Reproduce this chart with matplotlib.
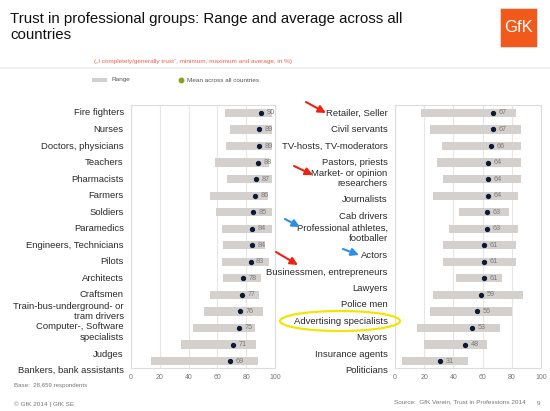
"""Trust in professional groups: range and average across all countries."""

import matplotlib.pyplot as plt
from matplotlib.patches import Ellipse, FancyBboxPatch

plt.rcParams['font.family'] = ['Liberation Sans', 'DejaVu Sans']

# left panel
left_groups = ["Fire fighters", "Nurses", "Doctors, physicians", "Teachers", "Pharmacists",
               "Farmers", "Soldiers", "Paramedics", "Engineers, Technicians", "Pilots",
               "Architects", "Craftsmen", "Train-bus-underground- or\ntram drivers",
               "Computer-, Software\nspecialists", "Judges", "Bankers, bank assistants"]
left_min = [65, 69, 66, 58, 67, 55, 59, 63, 64, 63, 64, 55, 51, 43, 35, 14]
left_max = [98, 98, 98, 96, 98, 95, 98, 98, 93, 96, 90, 89, 92, 86, 87, 88]
left_mean = [90, 89, 89, 88, 87, 86, 85, 84, 84, 83, 78, 77, 76, 75, 71, 69]
left_label_pos = [0, 1, 2, 3, 4, 5, 6, 7, 8, 9, 10, 11, 12, 13.25, 14.58, 15.55]

# right panel
right_groups = ["Retailer, Seller", "Civil servants", "TV-hosts, TV-moderators",
                "Pastors, priests", "Market- or opinion\nresearchers", "Journalists",
                "Cab drivers", "Professional athletes,\nfootballer", "Actors",
                "Businessmen, entrepreneurs", "Lawyers", "Police men",
                "Advertising specialists", "Mayors", "Insurance agents", "Politicians"]
right_min = [18, 24, 32, 29, 33, 26, 44, 37, 33, 33, 42, 26, 24, 15, 20, 5]
right_max = [83, 86, 86, 86, 86, 84, 78, 84, 83, 83, 73, 88, 80, 72, 63, 50]
right_mean = [67, 67, 66, 64, 64, 64, 63, 63, 61, 61, 61, 59, 56, 53, 48, 31]
right_label_pos = [0, 1.03, 2, 2.98, 3.96, 5.26, 6.29, 7.29, 8.59, 9.62, 10.6, 11.6,
                   12.6, 13.6, 14.6, 15.6]

xticks = [0, 20, 40, 60, 80, 100]

BAR = "#d4d0cd"
DOT = "#0d1a33"
GRID = "#e6e6e6"
W, H = 550, 411


def fx(px):
    return px / W


def fy(py):
    return 1 - py / H


def draw_panel(ax, groups, vmin, vmax, vmean, label_pos):
    pos = list(range(len(groups)))
    widths = [b - a for a, b in zip(vmin, vmax)]
    ax.barh(pos, widths, left=vmin, height=0.5, color=BAR, zorder=2)
    ax.plot(vmean, pos, "o", color=DOT, markersize=2.8, zorder=3)
    for m, p in zip(vmean, pos):
        ax.annotate(str(m), (m, p), xytext=(4, 0), textcoords="offset points",
                    ha="left", va="center", fontsize=5.2, color="#7a7a7a", zorder=4)
    for g, lp in zip(groups, label_pos):
        ax.text(-0.05, lp, g, transform=ax.get_yaxis_transform(), ha="right",
                va="center", fontsize=6.8, color="#2a2a2a", linespacing=1.2,
                clip_on=False)
    ax.set_xlim(0, 100)
    ax.set_ylim(15.42, -0.48)
    ax.set_xticks(xticks)
    ax.set_yticks([])
    ax.tick_params(axis="x", length=0, labelsize=5, labelcolor="#777777", pad=4)
    ax.grid(True, axis="x", color=GRID, linewidth=0.8, zorder=0)
    for s in ax.spines.values():
        s.set_color("#dcdcdc")
        s.set_linewidth(0.8)


def main():
    fig = plt.figure(figsize=(5.5, 4.11), dpi=100)
    fig.patch.set_facecolor("white")

    ax_l = fig.add_axes([fx(131), fy(368), fx(275) - fx(131), fy(105) - fy(368)])
    ax_r = fig.add_axes([fx(395), fy(368), fx(541) - fx(395), fy(105) - fy(368)])
    draw_panel(ax_l, left_groups, left_min, left_max, left_mean, left_label_pos)
    draw_panel(ax_r, right_groups, right_min, right_max, right_mean, right_label_pos)

    # title and header
    fig.text(fx(10), fy(27), "Trust in professional groups: Range and average across all\ncountries",
             fontsize=10.8, color="#111111", va="center", ha="left", linespacing=1.2)
    fig.text(fx(94), fy(62), "(\u201eI completely/generally trust\u201c, minimum, maximum and average, in %)",
             fontsize=4.6, color="#f0604a", va="center")
    fig.add_artist(plt.Line2D([0, 1], [fy(68), fy(68)], color="#ececec", linewidth=1.2))
    fig.add_artist(plt.Line2D([fx(94), fx(105)], [fy(80), fy(80)], color=BAR, linewidth=3))
    fig.text(fx(112), fy(80), "Range", fontsize=4.6, color="#555555", va="center")
    fig.add_artist(plt.Line2D([fx(181)], [fy(80)], marker="o", color="#8aa020", markersize=3.2))
    fig.text(fx(187), fy(80), "Mean across all countries", fontsize=4.6, color="#555555", va="center")

    # logo
    fig.add_artist(FancyBboxPatch((fx(500), fy(47)), fx(37), fy(8) - fy(47),
                                  boxstyle="square,pad=0", facecolor="#f25a1c",
                                  edgecolor="#e8e8e8", linewidth=0.5))
    fig.text(fx(518.5), fy(28), "GfK", fontsize=12, color="white", ha="center", va="center")

    # footer
    fig.text(fx(14), fy(385), "Base:  28,659 respondents", fontsize=4.4, color="#777777", va="center")
    fig.text(fx(14), fy(404), "\u00a9 GfK 2014 | GfK SE", fontsize=4.6, color="#777777", va="center")
    fig.text(fx(394), fy(402), "Source:  GfK Verein, Trust in Professions 2014", fontsize=4.6,
             color="#777777", va="center")
    fig.text(fx(537), fy(403), "9", fontsize=4.6, color="#777777", va="center")

    # highlight marks
    arrows = [((306, 102), (326, 113), "#ee2211"),
              ((294, 166), (313, 175), "#ee2211"),
              ((276, 252), (298, 265), "#ee2211"),
              ((285, 219), (300, 227), "#2b8ee8"),
              ((343, 249), (359, 255), "#2b8ee8")]
    for (x0, y0), (x1, y1), c in arrows:
        fig.add_artist(plt.Annotation("", xy=(fx(x1), fy(y1)), xytext=(fx(x0), fy(y0)),
                                      xycoords="figure fraction", textcoords="figure fraction",
                                      arrowprops=dict(arrowstyle="-|>,head_length=0.45,head_width=0.22",
                                                      color=c, linewidth=1.5,
                                                      shrinkA=0, shrinkB=0)))
    fig.add_artist(Ellipse((fx(340), fy(321)), fx(120), 20 / H, fill=False,
                           edgecolor="#f2e600", linewidth=1.6))

    fig.savefig("out.png", dpi=100)


if __name__ == '__main__':
    main()
